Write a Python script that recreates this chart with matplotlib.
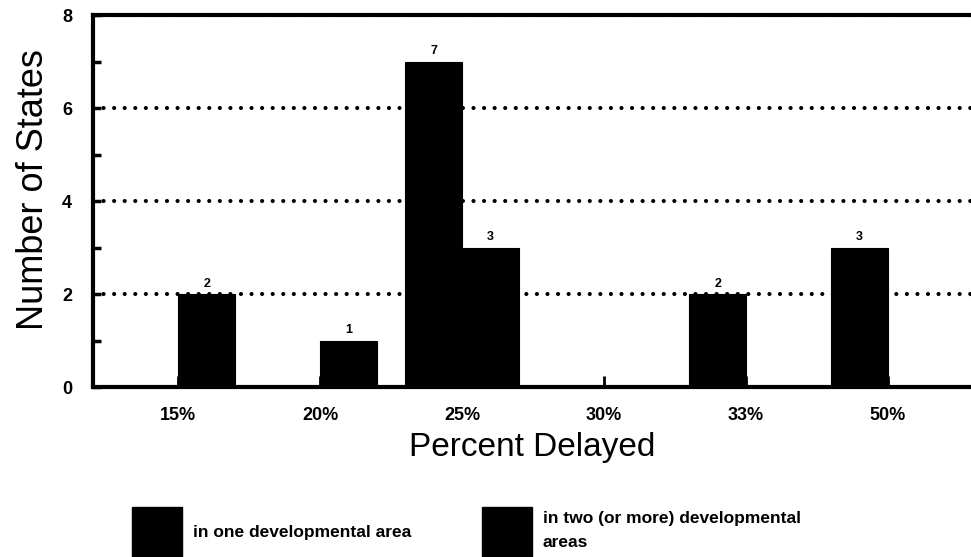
import matplotlib
matplotlib.use("Agg")
import matplotlib.pyplot as plt
from matplotlib.patches import Patch
from matplotlib.ticker import MultipleLocator
import numpy as np

# Data
categories = ["15%", "20%", "25%", "30%", "33%", "50%"]
one_area = [0, 0, 7, 0, 2, 3]
two_or_more = [2, 1, 3, 0, 0, 0]
series_labels = ["in one developmental area",
                 "in two (or more) developmental\nareas"]
y_ticks = [0, 2, 4, 6, 8]

plt.rcParams["font.family"] = ["Liberation Sans", "DejaVu Sans"]
plt.rcParams["lines.scale_dashes"] = False

fig = plt.figure(figsize=(9.71, 5.57), dpi=100)
ax = fig.add_axes([0.0958, 0.305, 0.9042, 0.668])

x = np.arange(len(categories))
w = 0.40

b1 = ax.bar(x - w / 2, one_area, width=w, color="black", edgecolor="black",
            linewidth=0.8, zorder=3)
b2 = ax.bar(x + w / 2, two_or_more, width=w, color="black", edgecolor="black",
            linewidth=0.8, zorder=3)

for cont, vals in ((b1, one_area), (b2, two_or_more)):
    ax.bar_label(cont, labels=[str(v) if v else "" for v in vals], padding=3,
                 fontsize=9, fontweight="bold")

ax.set_xlim(-0.60, 5.585)
ax.set_ylim(0, 8)
ax.set_xticks(x)
ax.set_xticklabels(categories, fontsize=13, fontweight="heavy")
ax.set_yticks(y_ticks)
ax.set_yticklabels([str(t) for t in y_ticks], fontsize=13, fontweight="heavy")
ax.yaxis.set_minor_locator(MultipleLocator(1))

ax.tick_params(axis="y", which="major", direction="in", length=6, width=2.5,
               pad=15)
ax.tick_params(axis="y", which="minor", direction="in", length=6, width=2.5)
ax.tick_params(axis="x", which="major", direction="in", length=8, width=2,
               pad=14)

# Dotted horizontal grid
ax.set_axisbelow(True)
ax.grid(axis="y", which="major", color="black", linewidth=3,
        linestyle=(0, (0.01, 7.6)))
for gl in ax.get_ygridlines():
    gl.set_dash_capstyle("round")

for side in ("left", "top", "bottom"):
    ax.spines[side].set_linewidth(3)
    ax.spines[side].set_zorder(4)
ax.spines["right"].set_visible(False)

ax.set_ylabel("Number of States", fontsize=26)
ax.yaxis.set_label_coords(-0.048, 0.53)
ax.set_xlabel("Percent Delayed", fontsize=24, labelpad=6)

# Legend: two entries placed side by side under the axes
fs = 12.5
for i, lab in enumerate(series_labels):
    anchor_x = [132, 482][i] / 971
    leg = fig.legend(handles=[Patch(facecolor="black", edgecolor="black")],
                     labels=[lab], loc="center left",
                     bbox_to_anchor=(anchor_x, 1 - 532 / 557),
                     frameon=False, borderpad=0, borderaxespad=0,
                     handlelength=2.9, handleheight=4.0, handletextpad=0.6,
                     prop={"size": fs, "weight": "bold"})
    for t in leg.get_texts():
        t.set_linespacing(1.75)

fig.savefig("out.png", dpi=100)
